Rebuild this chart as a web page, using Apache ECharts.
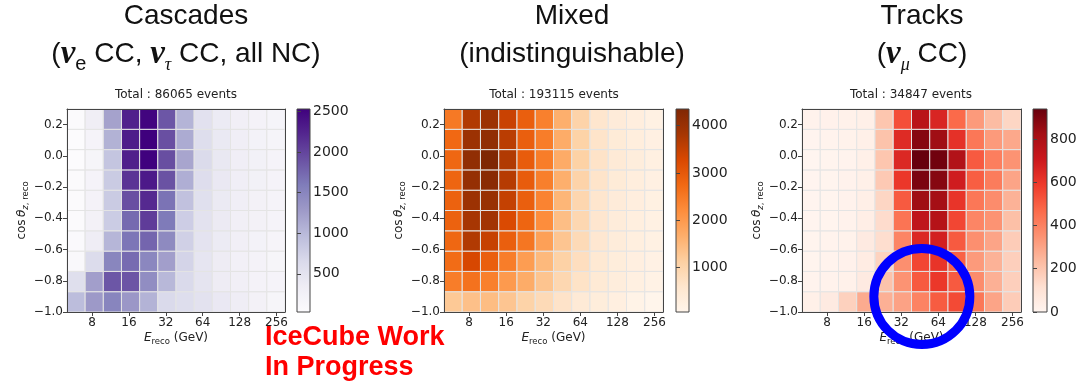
<!DOCTYPE html>
<html>
<head>
<meta charset="utf-8">
<script src="https://cdn.jsdelivr.net/npm/echarts@6/dist/echarts.min.js"></script>
<style>
  html, body { margin: 0; padding: 0; background: #ffffff; }
  #main { width: 1089px; height: 388px; }
</style>
</head>
<body>
<div id="main"></div>
<script>
// Reconstructed-energy bin edges (GeV, log spaced) and cos(zenith) bin edges
const energyEdges = [5, 7.03, 9.89, 13.91, 19.57, 27.52, 38.73, 54.47, 76.62, 107.8, 151.6, 213.3, 300];
const cosEdges = [-1.0, -0.87, -0.74, -0.61, -0.48, -0.35, -0.22, -0.09, 0.04, 0.17, 0.30];

// Tick positions
const energyTicks = [8, 16, 32, 64, 128, 256];
const cosTicks = [-1.0, -0.8, -0.6, -0.4, -0.2, 0.0, 0.2];
const cascadesTicks = [500, 1000, 1500, 2000, 2500];
const mixedTicks = [1000, 2000, 3000, 4000];
const tracksTicks = [0, 200, 400, 600, 800];

// Event counts per bin. Rows: cos bins from -1.0 (first) up to 0.3 (last);
// columns: energy bins from 5 GeV up to 300 GeV.
const cascades = [
  [ 970, 1290, 1510, 1310, 1060,  660,  590,  520,  420,  340,  250,  170],
  [ 580, 1240, 1870, 1880, 1420, 1010,  650,  490,  360,  300,  230,  200],
  [ 100,  620, 1500, 1720, 1480, 1240,  720,  470,  360,  280,  230,  170],
  [  80,  340, 1030, 1640, 1760, 1450,  760,  500,  380,  300,  240,  180],
  [  60,  250,  810, 1730, 2060, 1610,  790,  520,  390,  300,  250,  200],
  [  60,  220,  820, 1920, 2200, 1660,  920,  560,  400,  310,  250,  200],
  [  50,  200,  820, 2120, 2330, 1900, 1100,  600,  420,  320,  260,  200],
  [  40,  170,  880, 2280, 2520, 1930, 1180,  640,  430,  320,  260,  200],
  [  30,  200, 1070, 2300, 2530, 1920, 1130,  590,  410,  310,  240,  190],
  [  50,  330, 1210, 2270, 2490, 1870, 1050,  540,  380,  290,  230,  190]
];
const mixed = [
  [1250, 1380, 1430, 1300, 1060,  880,  660,  450,  350,  270,  130,   60],
  [2450, 2600, 2400, 2000, 1700, 1320,  950,  680,  470,  340,  250,  180],
  [2700, 3300, 2900, 2450, 1950, 1500, 1080,  780,  500,  350,  260,  190],
  [2780, 3700, 3480, 2900, 2550, 1900, 1300,  880,  550,  370,  280,  200],
  [2850, 3800, 3870, 3250, 2800, 2200, 1420,  950,  580,  380,  290,  210],
  [2850, 3950, 4000, 3500, 2900, 2350, 1550,  980,  600,  400,  300,  220],
  [2800, 4050, 4200, 3650, 2950, 2420, 1650, 1050,  640,  430,  320,  230],
  [2780, 4100, 4350, 3700, 2950, 2450, 1720, 1090,  670,  450,  330,  240],
  [2750, 3950, 4100, 3600, 2900, 2450, 1700, 1070,  650,  430,  320,  230],
  [2500, 3700, 3950, 3450, 2900, 2400, 1650, 1050,  600,  400,  300,  200]
];
const tracks = [
  [ 30,  60, 165, 280, 265, 305, 395, 505, 550, 430, 300, 180],
  [ 10,  15,  25,  60, 210, 350, 510, 600, 510, 370, 265, 170],
  [  8,  12,  20,  50, 160, 360, 560, 610, 490, 330, 260, 170],
  [  6,  10,  18,  60, 125, 390, 650, 680, 510, 360, 300, 180],
  [  5,   8,  15,  40, 130, 440, 740, 770, 560, 390, 350, 220],
  [  5,   8,  15,  35, 150, 510, 830, 820, 610, 430, 370, 260],
  [  4,   8,  14,  30, 190, 600, 900, 880, 690, 500, 415, 300],
  [  0,   6,  12,  30, 200, 650, 938, 920, 780, 510, 410, 350],
  [  5,  10,  18,  30, 210, 640, 880, 830, 620, 430, 330, 290],
  [ 15,  20,  25,  30, 200, 540, 760, 660, 470, 330, 230, 150]
];
const totals = ['86065', '193115', '34847'];

// Sequential colour maps (ColorBrewer Purples / Oranges / Reds)
const purples = ['#fcfbfd', '#efedf5', '#dadaeb', '#bcbddc', '#9e9ac8', '#807dba', '#6a51a3', '#54278f', '#3f007d'];
const oranges = ['#fff5eb', '#fee6ce', '#fdd0a2', '#fdae6b', '#fd8d3c', '#f16913', '#d94801', '#a63603', '#7f2704'];
const reds    = ['#fff5f0', '#fee0d2', '#fcbba1', '#fc9272', '#fb6a4a', '#ef3b2c', '#cb181d', '#a50f15', '#67000d'];

// Highlighted region on the tracks panel (energy GeV, cos zenith)
const ringCenter = [47, -0.9];

const chart = echarts.init(document.getElementById('main'), null, { renderer: 'canvas' });

const TEXT = '#222222';
const FRAME = '#444444';
const MPL_FONT = 'DejaVu Sans';
const TOP = 109, HEIGHT = 203;

const panels = [
  { values: cascades, cmap: purples, ticks: cascadesTicks, left: 67,  width: 218, cbLeft: 297,  cbWidth: 13 },
  { values: mixed,    cmap: oranges, ticks: mixedTicks,    left: 444, width: 219, cbLeft: 676,  cbWidth: 13 },
  { values: tracks,   cmap: reds,    ticks: tracksTicks,   left: 802, width: 219, cbLeft: 1033, cbWidth: 14 }
];

function flat(m) { return m.reduce((a, r) => a.concat(r), []); }

function cellData(values) {
  const out = [];
  values.forEach((row, r) => {
    row.forEach((v, c) => {
      out.push([energyEdges[c], energyEdges[c + 1], cosEdges[r], cosEdges[r + 1], v]);
    });
  });
  return out;
}

function cellItem(params, api) {
  const a = api.coord([api.value(0), api.value(2)]);
  const b = api.coord([api.value(1), api.value(3)]);
  return {
    type: 'rect',
    shape: { x: a[0], y: b[1], width: b[0] - a[0], height: a[1] - b[1] },
    style: { fill: api.visual('color'), stroke: '#e4e4e4', lineWidth: 1 }
  };
}

function colorbarItem(cmap) {
  const stops = cmap.map((c, i) => ({ offset: i / (cmap.length - 1), color: c }));
  return function (params, api) {
    const a = api.coord([0, api.value(2)]);
    const b = api.coord([1, api.value(3)]);
    return {
      type: 'rect',
      shape: { x: a[0], y: b[1], width: b[0] - a[0], height: a[1] - b[1] },
      style: {
        fill: new echarts.graphic.LinearGradient(0, 1, 0, 0, stops),
        stroke: FRAME, lineWidth: 1
      }
    };
  };
}

const fmtCos = v => (v < -1e-9 ? '\u2212' : '') + Math.abs(v).toFixed(1);
const fmtCount = v => String(Math.round(v));

const grid = [], xAxis = [], yAxis = [], series = [], visualMap = [];

const subRich = {
  it:  { fontFamily: MPL_FONT, fontStyle: 'italic', fontSize: 12, color: TEXT, lineHeight: 17 },
  sub: { fontFamily: MPL_FONT, fontSize: 8.5, color: TEXT, lineHeight: 9, verticalAlign: 'bottom' },
  subi:{ fontFamily: MPL_FONT, fontStyle: 'italic', fontSize: 8.5, color: TEXT, lineHeight: 9, verticalAlign: 'bottom' }
};

panels.forEach((p, i) => {
  const vals = flat(p.values);
  const vmin = Math.min.apply(null, vals);
  const vmax = Math.max.apply(null, vals);

  grid.push({ left: p.left, top: TOP, width: p.width, height: HEIGHT });
  grid.push({ left: p.cbLeft, top: TOP, width: p.cbWidth, height: HEIGHT });

  const lineStyle = { color: FRAME, width: 1 };
  // heat map axes: bottom / top (frame only) / colour bar
  xAxis.push({
    gridIndex: 2 * i, type: 'log', logBase: 2, min: 5, max: 300, z: 5,
    axisLine: { show: true, onZero: false, lineStyle },
    axisTick: { show: true, length: 4, lineStyle, customValues: energyTicks },
    axisLabel: { customValues: energyTicks, fontFamily: MPL_FONT, fontSize: 12, color: TEXT, margin: 5 },
    minorTick: { show: false }, splitLine: { show: false },
    name: '{it|E}{sub|reco} (GeV)', nameLocation: 'middle', nameGap: 17, nameMoveOverlap: false,
    nameTextStyle: { fontFamily: MPL_FONT, fontSize: 12, color: TEXT, lineHeight: 17, rich: subRich }
  });
  xAxis.push({
    gridIndex: 2 * i, type: 'log', logBase: 2, min: 5, max: 300, position: 'top', z: 5,
    axisLine: { show: true, onZero: false, lineStyle },
    axisTick: { show: false }, axisLabel: { show: false }, splitLine: { show: false }
  });
  xAxis.push({ gridIndex: 2 * i + 1, type: 'value', min: 0, max: 1, show: false });

  yAxis.push({
    gridIndex: 2 * i, type: 'value', min: -1.0, max: 0.3, z: 5,
    axisLine: { show: true, onZero: false, lineStyle },
    axisTick: { show: true, length: 4, lineStyle, customValues: cosTicks },
    axisLabel: { customValues: cosTicks, formatter: fmtCos, fontFamily: MPL_FONT, fontSize: 12, color: TEXT, margin: 4 },
    splitLine: { show: false },
    name: 'cos\u2009{it|\u03b8}{subi|z}{sub|, reco}', nameLocation: 'middle', nameRotate: 90, nameGap: 37,
    nameMoveOverlap: false,
    nameTextStyle: { fontFamily: MPL_FONT, fontSize: 12, color: TEXT, lineHeight: 17, rich: subRich }
  });
  yAxis.push({
    gridIndex: 2 * i, type: 'value', min: -1.0, max: 0.3, position: 'right', z: 5,
    axisLine: { show: true, onZero: false, lineStyle },
    axisTick: { show: false }, axisLabel: { show: false }, splitLine: { show: false }
  });
  yAxis.push({
    gridIndex: 2 * i + 1, type: 'value', min: vmin, max: vmax, position: 'right', z: 5,
    axisLine: { show: false },
    axisTick: { show: true, length: 4, lineStyle, customValues: p.ticks },
    axisLabel: { customValues: p.ticks, formatter: fmtCount, fontFamily: MPL_FONT, fontSize: 14, color: TEXT, margin: 3 },
    splitLine: { show: false }
  });

  series.push({
    type: 'custom', xAxisIndex: 3 * i, yAxisIndex: 3 * i,
    renderItem: cellItem, encode: { x: [0, 1], y: [2, 3] },
    dimensions: ['eLo', 'eHi', 'cLo', 'cHi', 'count'],
    data: cellData(p.values), silent: true
  });

  visualMap.push({
    type: 'continuous', show: false, seriesIndex: i, dimension: 4,
    min: vmin, max: vmax, inRange: { color: p.cmap }
  });
});

panels.forEach((p, i) => {
  const vals = flat(p.values);
  series.push({
    type: 'custom', xAxisIndex: 3 * i + 2, yAxisIndex: 3 * i + 2,
    renderItem: colorbarItem(p.cmap), encode: { x: [0, 1], y: [2, 3] },
    data: [[0, 1, Math.min.apply(null, vals), Math.max.apply(null, vals)]], silent: true
  });
});

series.push({
  type: 'scatter', xAxisIndex: 6, yAxisIndex: 6, z: 10, silent: true,
  symbol: 'circle', symbolSize: 96,
  itemStyle: { color: 'rgba(0,0,0,0)', borderColor: '#0000ff', borderWidth: 9, opacity: 1 },
  data: [ringCenter]
});

// Titles and annotations
const bigFont = 'Liberation Sans';
function bigText(x, y, text, rich) {
  return {
    type: 'text', x: x, y: y, silent: true,
    style: {
      text: text, fontFamily: bigFont, fontSize: 28, fill: '#111111',
      align: 'center', verticalAlign: 'middle', textAlign: 'center', textVerticalAlign: 'middle',
      lineHeight: 40, rich: rich || {}
    }
  };
}
const greekRich = {
  nu: { fontFamily: 'Liberation Serif', fontWeight: 'bold', fontStyle: 'italic', fontSize: 33, lineHeight: 40 },
  se: { fontFamily: bigFont, fontSize: 20, lineHeight: 20, verticalAlign: 'bottom' },
  sg: { fontFamily: 'Liberation Serif', fontStyle: 'italic', fontSize: 18, lineHeight: 18, verticalAlign: 'bottom' }
};

const graphic = [
  bigText(186, 16, 'Cascades'),
  bigText(186, 54, '({nu|\u03bd}{se|e} CC, {nu|\u03bd}{sg|\u03c4} CC, all NC)', greekRich),
  bigText(572, 16, 'Mixed'),
  bigText(572, 54, '(indistinguishable)'),
  bigText(922, 16, 'Tracks'),
  bigText(922, 54, '({nu|\u03bd}{sg|\u03bc} CC)', greekRich)
];
const subCenters = [176, 554, 911];
subCenters.forEach((cx, i) => {
  graphic.push({
    type: 'text', x: cx, y: 95, silent: true,
    style: {
      text: 'Total : ' + totals[i] + ' events', fontFamily: MPL_FONT, fontSize: 12, fill: TEXT,
      align: 'center', verticalAlign: 'middle', textAlign: 'center', textVerticalAlign: 'middle'
    }
  });
});
graphic.push({
  type: 'text', x: 265, y: 338, silent: true,
  style: { text: 'IceCube Work', fontFamily: bigFont, fontWeight: 'bold', fontSize: 27, fill: '#ff0000',
           align: 'left', verticalAlign: 'middle', textAlign: 'left', textVerticalAlign: 'middle' }
});
graphic.push({
  type: 'text', x: 265, y: 368, silent: true,
  style: { text: 'In Progress', fontFamily: bigFont, fontWeight: 'bold', fontSize: 27, fill: '#ff0000',
           align: 'left', verticalAlign: 'middle', textAlign: 'left', textVerticalAlign: 'middle' }
});

chart.setOption({
  backgroundColor: '#ffffff',
  animation: false,
  grid: grid,
  xAxis: xAxis,
  yAxis: yAxis,
  visualMap: visualMap,
  series: series,
  graphic: graphic
});
</script>
</body>
</html>
